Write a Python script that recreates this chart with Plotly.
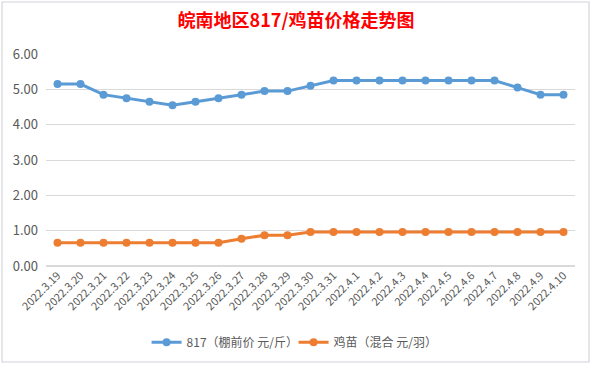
import plotly.graph_objects as go

dates = ["2022.3.19", "2022.3.20", "2022.3.21", "2022.3.22", "2022.3.23", "2022.3.24",
         "2022.3.25", "2022.3.26", "2022.3.27", "2022.3.28", "2022.3.29", "2022.3.30",
         "2022.3.31", "2022.4.1", "2022.4.2", "2022.4.3", "2022.4.4", "2022.4.5",
         "2022.4.6", "2022.4.7", "2022.4.8", "2022.4.9", "2022.4.10"]
price_817 = [5.15, 5.15, 4.85, 4.75, 4.65, 4.55, 4.65, 4.75, 4.85, 4.95, 4.95, 5.10,
             5.25, 5.25, 5.25, 5.25, 5.25, 5.25, 5.25, 5.25, 5.05, 4.85, 4.85]
price_chick = [0.66, 0.66, 0.66, 0.66, 0.66, 0.66, 0.66, 0.66, 0.77, 0.87, 0.87, 0.96,
               0.96, 0.96, 0.96, 0.96, 0.96, 0.96, 0.96, 0.96, 0.96, 0.96, 0.96]
name_817 = "817（棚前价 元/斤）"
name_chick = "鸡苗（混合 元/羽）"
title_text = "皖南地区817/鸡苗价格走势图"
y_ticks = [0, 1, 2, 3, 4, 5, 6]

FONT = "Noto Sans CJK SC"
GREY = "#595959"

fig = go.Figure()
fig.add_trace(go.Scatter(x=dates, y=price_817, name=name_817, mode="lines+markers",
                         line=dict(color="#5B9BD5", width=3),
                         marker=dict(color="#5B9BD5", size=8)))
fig.add_trace(go.Scatter(x=dates, y=price_chick, name=name_chick, mode="lines+markers",
                         line=dict(color="#ED7D31", width=3),
                         marker=dict(color="#ED7D31", size=8)))

fig.update_layout(
    width=592, height=365,
    margin=dict(l=46, r=17, t=54, b=99, autoexpand=False),
    paper_bgcolor="white", plot_bgcolor="white",
    font=dict(family=FONT, color=GREY, size=11),
    title=dict(text="<b>" + title_text + "</b>", x=0.5, xref="container", xanchor="center",
               y=1 - 21 / 365, yanchor="middle",
               font=dict(family=FONT, size=18, color="#FF0000")),
    showlegend=True,
    legend=dict(orientation="h", x=0.468, xanchor="center", y=-0.36, yanchor="middle",
                font=dict(size=12, color=GREY, family=FONT), itemwidth=30,
                entrywidth=102, entrywidthmode="pixels",
                bgcolor="rgba(0,0,0,0)", tracegroupgap=0),
    xaxis=dict(type="category", tickangle=-45, showgrid=False, showline=False, automargin=False,
               ticks="", tickfont=dict(size=11, color=GREY), range=[-0.5, len(dates) - 0.5]),
    yaxis=dict(range=[0, 6], tickvals=y_ticks, tickformat=".2f", showgrid=True, automargin=False,
               gridcolor="#D9D9D9", gridwidth=1, zeroline=True, zerolinecolor="#D9D9D9",
               showline=False, ticks="", ticklabelstandoff=7,
               tickfont=dict(size=13, color=GREY)),
    shapes=[dict(type="rect", xref="paper", yref="paper", x0=-44 / 529, x1=1 + 14 / 529,
                 y0=-96 / 212, y1=1 + 52 / 212, line=dict(color="#D4D4DC", width=1.2),
                 fillcolor="rgba(0,0,0,0)", layer="below")],
)

fig.write_html("out.html", config={"displayModeBar": False},
               post_script="document.body.style.margin='0';document.body.style.padding='0';")
